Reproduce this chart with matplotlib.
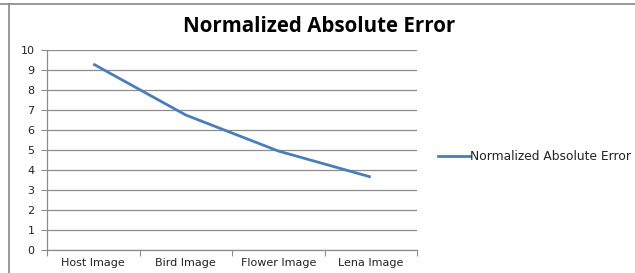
import matplotlib
matplotlib.use("Agg")
import matplotlib.pyplot as plt
from matplotlib.lines import Line2D

categories = ["Host Image", "Bird Image", "Flower Image", "Lena Image"]
values = [9.3, 6.75, 4.95, 3.65]
series_name = "Normalized Absolute Error"
yticks = list(range(0, 11))

W, H = 635, 273
fig = plt.figure(figsize=(W / 100, H / 100), dpi=100)
fig.patch.set_facecolor("white")

# outer chart border
fig.add_artist(Line2D([0, 1], [1 - 4 / H, 1 - 4 / H], color="#888888", lw=1.2, transform=fig.transFigure))
fig.add_artist(Line2D([9 / W, 9 / W], [0, 1 - 4 / H], color="#888888", lw=1.2, transform=fig.transFigure))

ax = fig.add_axes([47 / W, (H - 250) / H, (417 - 47) / W, 200 / H])
x = list(range(len(categories)))
ax.plot(x, values, color="#4a7ebb", lw=2.0, solid_capstyle="butt", label=series_name)

ax.set_xlim(-0.5, len(categories) - 0.5)
ax.set_ylim(0, 10)
ax.set_yticks(yticks)
ax.yaxis.grid(True, color="#8c8c8c", lw=0.9)
ax.set_axisbelow(True)

ax.set_xticks([i - 0.5 for i in range(len(categories) + 1)])
ax.set_xticklabels([])
ax.set_xticks(x, minor=True)
ax.set_xticklabels(categories, minor=True)
ax.tick_params(axis="x", which="major", length=4, color="#8c8c8c", direction="out")
ax.tick_params(axis="x", which="minor", length=0, pad=6, labelsize=8, labelcolor="#222222")
ax.tick_params(axis="y", length=4, color="#8c8c8c", pad=5, labelsize=8, labelcolor="#222222")
for lab in ax.get_xticklabels(minor=True) + ax.get_yticklabels():
    lab.set_family("DejaVu Sans")

for s in ["top", "right"]:
    ax.spines[s].set_visible(False)
for s in ["left", "bottom"]:
    ax.spines[s].set_color("#8c8c8c")
    ax.spines[s].set_linewidth(0.9)

fig.text(319 / W, 1 - 27 / H, series_name, ha="center", va="center",
         fontsize=14.8, fontweight="bold", family="Open Sans", color="#000000")

leg = fig.legend(handles=[Line2D([], [], color="#4a7ebb", lw=2.0)], labels=[series_name],
                 loc="center left", bbox_to_anchor=(438 / W, 1 - 157 / H),
                 frameon=False, fontsize=8.8, handlelength=2.6, handletextpad=0.05,
                 borderpad=0, borderaxespad=0)
for t in leg.get_texts():
    t.set_family("DejaVu Sans")
    t.set_color("#222222")

fig.savefig("out.png", dpi=100)
